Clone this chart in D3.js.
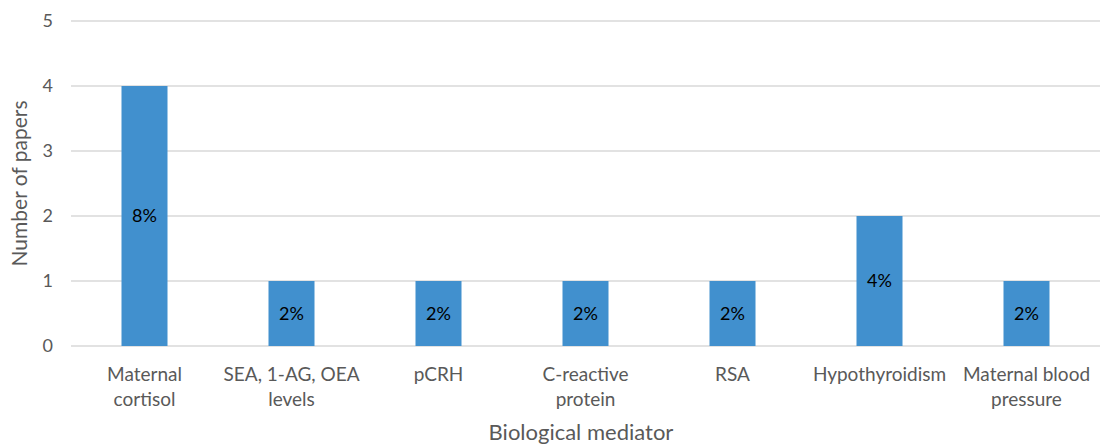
<!DOCTYPE html>
<meta charset="utf-8">
<style>
body { margin: 0; background: #fff; }
text { font-family: Lato, "Open Sans", sans-serif; }
.grid line { stroke: #d9d9d9; stroke-width: 1.5px; }
</style>
<body>
<svg width="1101" height="446"></svg>
<script src="https://cdnjs.cloudflare.com/ajax/libs/d3/7.8.5/d3.min.js"></script>
<script>

var categories = [["Maternal", "cortisol"], ["SEA, 1-AG, OEA", "levels"], ["pCRH"],
                  ["C-reactive", "protein"], ["RSA"], ["Hypothyroidism"], ["Maternal blood", "pressure"]];
var papers = [4, 1, 1, 1, 1, 2, 1];
var shares = ["8%", "2%", "2%", "2%", "2%", "4%", "2%"];
var yTicks = [0, 1, 2, 3, 4, 5];

var svg = d3.select("svg"),
    plotL = 71, plotR = 1100, plotT = 21, plotB = 346;

var x = d3.scaleBand()
    .domain(d3.range(categories.length))
    .range([plotL, plotR])
    .paddingInner(0.687)
    .paddingOuter(0.3435);

var y = d3.scaleLinear().domain([0, 5]).range([plotB, plotT]);

// gridlines
svg.append("g").attr("class", "grid")
  .selectAll("line")
  .data(yTicks)
  .enter().append("line")
    .attr("x1", plotL).attr("x2", plotR)
    .attr("y1", d => y(d)).attr("y2", d => y(d));

// y tick labels
svg.append("g")
  .selectAll("text")
  .data(yTicks)
  .enter().append("text")
    .attr("x", 53).attr("y", d => y(d))
    .attr("dy", "0.35em")
    .attr("text-anchor", "end")
    .attr("fill", "#595959")
    .style("font-size", "18px")
    .text(d => d);

// bars
svg.append("g")
  .selectAll("rect")
  .data(papers)
  .enter().append("rect")
    .attr("x", (d, i) => x(i))
    .attr("width", x.bandwidth())
    .attr("y", d => y(d))
    .attr("height", d => y(0) - y(d))
    .attr("fill", "#4190ce");

// data labels
svg.append("g")
  .selectAll("text")
  .data(papers)
  .enter().append("text")
    .attr("x", (d, i) => x(i) + x.bandwidth() / 2)
    .attr("y", d => (y(d) + y(0)) / 2)
    .attr("dy", "0.35em")
    .attr("text-anchor", "middle")
    .attr("fill", "#000")
    .style("font-size", "18px")
    .text((d, i) => shares[i]);

// category labels
var cat = svg.append("g")
  .selectAll("text")
  .data(categories)
  .enter().append("text")
    .attr("text-anchor", "middle")
    .attr("fill", "#595959")
    .style("font-size", "19px");

cat.selectAll("tspan")
  .data((d, i) => d.map(s => ({s: s, i: i})))
  .enter().append("tspan")
    .attr("x", d => x(d.i) + x.bandwidth() / 2)
    .attr("y", (d, j) => 381 + j * 25)
    .text(d => d.s);

// axis titles
svg.append("text")
    .attr("x", 581)
    .attr("y", 440)
    .attr("text-anchor", "middle")
    .attr("fill", "#595959")
    .style("font-size", "22px")
    .text("Biological mediator");

svg.append("text")
    .attr("transform", "translate(27," + ((plotT + plotB) / 2) + ")rotate(-90)")
    .attr("text-anchor", "middle")
    .attr("fill", "#595959")
    .style("font-size", "21px")
    .text("Number of papers");

</script>
</body>
